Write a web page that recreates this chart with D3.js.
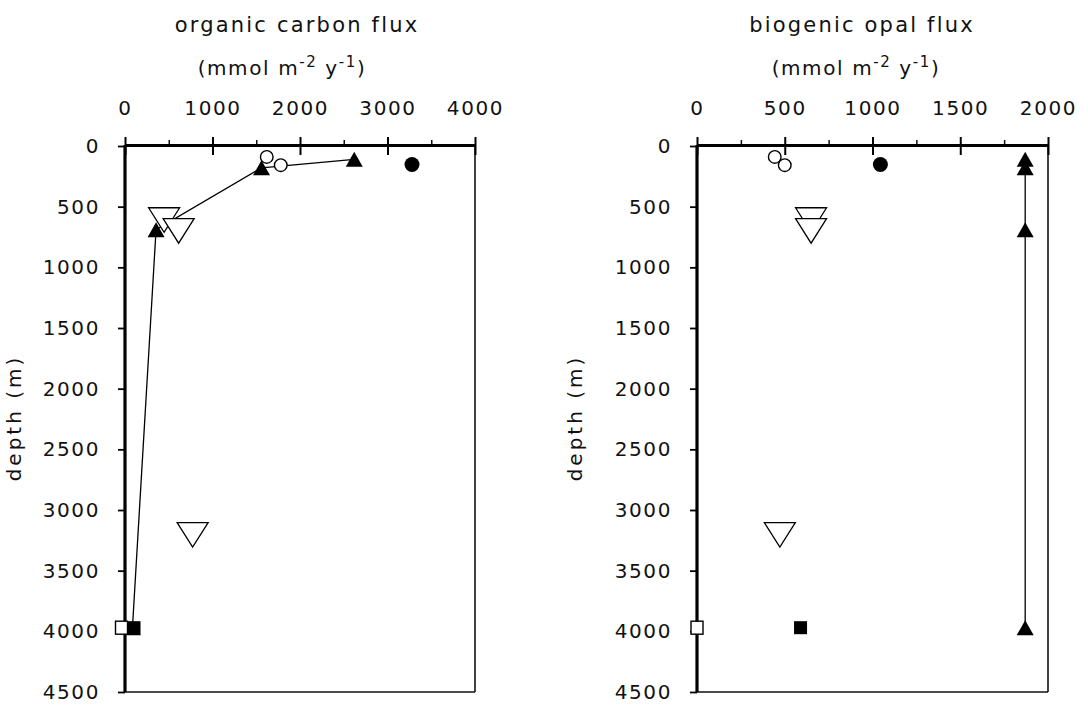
<!DOCTYPE html>
<html>
<head>
<meta charset="utf-8">
<script src="https://cdn.jsdelivr.net/npm/d3@7"></script>
<style>
  html, body { margin: 0; padding: 0; background: #fff; }
  svg { display: block; }
  text { font-family: "DejaVu Sans", sans-serif; fill: #111; }
</style>
</head>
<body>
<svg id="chart" width="1088" height="707"></svg>
<script>
// ---------- data ----------
const depthTicks = [0, 500, 1000, 1500, 2000, 2500, 3000, 3500, 4000, 4500];
const carbonTicks = [0, 1000, 2000, 3000, 4000];
const carbonMinor = [500, 1500, 2500, 3500];
const opalTicks = [0, 500, 1000, 1500, 2000];
const opalMinor = [250, 750, 1250, 1750];

// filled triangles (connected by a line)
const filledTriDepth  = [110, 180, 690, 3970];
const filledTriCarbon = [2620, 1560, 355, 85];
const filledTriOpal   = [1870, 1870, 1870, 1870];

// open circles
const openCircleDepth  = [90, 158];
const openCircleCarbon = [1620, 1780];
const openCircleOpal   = [443, 500];

// filled circle
const filledCircleDepth  = [152];
const filledCircleCarbon = [3280];
const filledCircleOpal   = [1045];

// open inverted triangles
const invTriDepth  = [575, 665, 3170];
const invTriCarbon = [447, 613, 773];
const invTriOpal   = [650, 650, 472];

// open square
const openSquareDepth  = [3970];
const openSquareCarbon = [-40];
const openSquareOpal   = [0];

// filled square
const filledSquareDepth  = [3970];
const filledSquareCarbon = [103];
const filledSquareOpal   = [590];

// ---------- drawing ----------
const svg = d3.select("#chart");

const panels = [
  {
    title: "organic carbon flux",
    titleX: 297, unitsX: 282,
    xDomain: [0, 4000], xRange: [125, 475],
    ticks: carbonTicks, minor: carbonMinor,
    labelX: 16,
    tri: filledTriCarbon, oc: openCircleCarbon, fc: filledCircleCarbon,
    inv: invTriCarbon, os: openSquareCarbon, fs: filledSquareCarbon
  },
  {
    title: "biogenic opal flux",
    titleX: 862, unitsX: 856,
    xDomain: [0, 2000], xRange: [697, 1048],
    ticks: opalTicks, minor: opalMinor,
    labelX: 577,
    tri: filledTriOpal, oc: openCircleOpal, fc: filledCircleOpal,
    inv: invTriOpal, os: openSquareOpal, fs: filledSquareOpal
  }
];

const yTop = 146, yBottom = 692, axisY = 145;
const fmt = d3.format("d");

const triUp = "M0,-7.5L8.5,7.5L-8.5,7.5Z";
const triDown = "M-15.5,-8L15.5,-8L0,16.5Z";

panels.forEach(p => {
  const x = d3.scaleLinear().domain(p.xDomain).range(p.xRange);
  const y = d3.scaleLinear().domain([0, 4500]).range([yTop, yBottom]);
  const x0 = p.xRange[0], x1 = p.xRange[1];

  // titles
  svg.append("text").attr("x", p.titleX).attr("y", 32)
    .attr("text-anchor", "middle")
    .style("font-size", "21px").style("letter-spacing", "2.2px")
    .text(p.title);
  const u = svg.append("text").attr("x", p.unitsX).attr("y", 75)
    .attr("text-anchor", "middle")
    .style("font-size", "20px").style("letter-spacing", "1.6px");
  u.append("tspan").text("(mmol m");
  u.append("tspan").attr("dy", -8).style("font-size", "15px").text("-2");
  u.append("tspan").attr("dy", 8).text(" y");
  u.append("tspan").attr("dy", -8).style("font-size", "15px").text("-1");
  u.append("tspan").attr("dy", 8).text(")");

  // frame right and bottom (thin)
  svg.append("line").attr("x1", x1).attr("x2", x1).attr("y1", axisY).attr("y2", yBottom)
    .attr("stroke", "#111").attr("stroke-width", 1.6);
  svg.append("line").attr("x1", x0).attr("x2", x1).attr("y1", yBottom).attr("y2", yBottom)
    .attr("stroke", "#111").attr("stroke-width", 1.6);

  // top axis: minor ticks
  const gMinor = svg.append("g").attr("transform", `translate(0,${axisY})`)
    .call(d3.axisTop(x).tickValues(p.minor).tickSize(5).tickSizeOuter(0).tickFormat(""));
  gMinor.select(".domain").remove();
  gMinor.selectAll("line").attr("stroke", "#111").attr("stroke-width", 1.5);

  // top axis: major ticks crossing the line
  const gTop = svg.append("g").attr("transform", `translate(0,${axisY})`)
    .call(d3.axisTop(x).tickValues(p.ticks).tickFormat(fmt)
      .tickSize(8).tickSizeOuter(0).tickPadding(22));
  gTop.select(".domain").attr("stroke", "#000").attr("stroke-width", 3.2);
  gTop.selectAll(".tick line").attr("y1", 10).attr("y2", -8)
    .attr("stroke", "#000").attr("stroke-width", 2);
  gTop.selectAll(".tick text")
    .style("font-family", '"DejaVu Sans", sans-serif')
    .style("font-size", "20px").style("letter-spacing", "1.6px")
    .attr("fill", "#111");

  // left axis
  const gLeft = svg.append("g").attr("transform", `translate(${x0},0)`)
    .call(d3.axisLeft(y).tickValues(depthTicks).tickFormat(fmt)
      .tickSize(7).tickSizeOuter(0).tickPadding(18));
  gLeft.select(".domain").attr("stroke", "#000").attr("stroke-width", 3.2)
    .attr("d", `M0,${axisY}V${yBottom}`);
  gLeft.selectAll(".tick line").attr("stroke", "#000").attr("stroke-width", 1.8);
  gLeft.selectAll(".tick text")
    .style("font-family", '"DejaVu Sans", sans-serif')
    .style("font-size", "20px").style("letter-spacing", "1.6px")
    .attr("fill", "#111");

  // y label
  svg.append("text")
    .attr("transform", `translate(${p.labelX + 5},418) rotate(-90)`)
    .attr("text-anchor", "middle")
    .style("font-size", "20px").style("letter-spacing", "3px")
    .text("depth (m)");

  // connecting line through filled triangles
  const lineData = filledTriDepth.map((d, i) => [p.tri[i], d]);
  svg.append("path").datum(lineData)
    .attr("d", d3.line().x(d => x(d[0])).y(d => y(d[1])))
    .attr("fill", "none").attr("stroke", "#000").attr("stroke-width", 1.3);

  // open inverted triangles
  svg.append("g").selectAll("path").data(invTriDepth.map((d, i) => [p.inv[i], d]))
    .join("path")
    .attr("d", triDown)
    .attr("transform", d => `translate(${x(d[0])},${y(d[1])})`)
    .attr("fill", "#fff").attr("stroke", "#000").attr("stroke-width", 1.3);

  // filled triangles
  svg.append("g").selectAll("path").data(filledTriDepth.map((d, i) => [p.tri[i], d]))
    .join("path")
    .attr("d", triUp)
    .attr("transform", d => `translate(${x(d[0])},${y(d[1])})`)
    .attr("fill", "#000");

  // open circles
  svg.append("g").selectAll("circle").data(openCircleDepth.map((d, i) => [p.oc[i], d]))
    .join("circle")
    .attr("cx", d => x(d[0])).attr("cy", d => y(d[1])).attr("r", 6.3)
    .attr("fill", "#fff").attr("stroke", "#000").attr("stroke-width", 1.4);

  // filled circle
  svg.append("g").selectAll("circle").data(filledCircleDepth.map((d, i) => [p.fc[i], d]))
    .join("circle")
    .attr("cx", d => x(d[0])).attr("cy", d => y(d[1])).attr("r", 7.5)
    .attr("fill", "#000");

  // open square
  svg.append("g").selectAll("rect").data(openSquareDepth.map((d, i) => [p.os[i], d]))
    .join("rect")
    .attr("x", d => x(d[0]) - 6).attr("y", d => y(d[1]) - 6.5)
    .attr("width", 12).attr("height", 13)
    .attr("fill", "#fff").attr("stroke", "#000").attr("stroke-width", 1.4);

  // filled square
  svg.append("g").selectAll("rect").data(filledSquareDepth.map((d, i) => [p.fs[i], d]))
    .join("rect")
    .attr("x", d => x(d[0]) - 6.5).attr("y", d => y(d[1]) - 6.5)
    .attr("width", 13).attr("height", 13)
    .attr("fill", "#000");
});
</script>
</body>
</html>
